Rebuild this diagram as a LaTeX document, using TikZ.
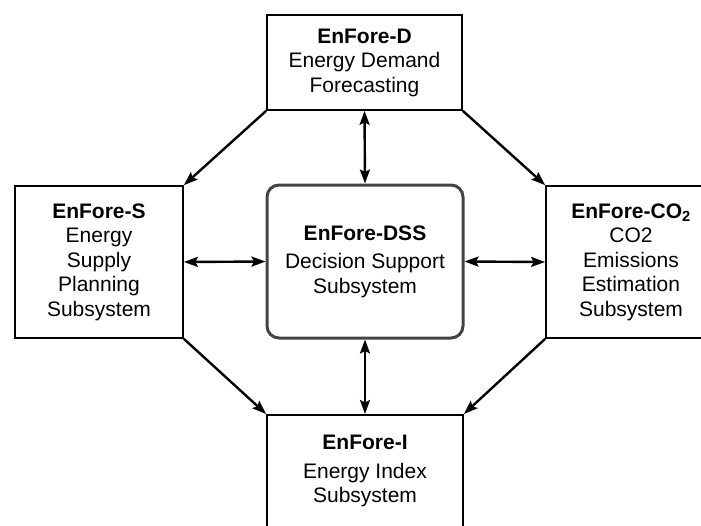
\documentclass[tikz,border=0pt]{standalone}
\usepackage{fontspec}
\setmainfont{Liberation Sans}
\usetikzlibrary{arrows.meta}
\definecolor{dssgray}{HTML}{444444}
\tikzset{
  box/.style={draw=black, line width=1.7pt, rectangle, inner sep=0pt, align=center,
    font=\fontsize{21}{24.5}\selectfont},
  dssbox/.style={draw=dssgray, line width=3pt, rectangle, rounded corners=12pt, inner sep=0pt,
    align=center, font=\fontsize{21}{24.5}\selectfont},
  label/.style={inner sep=0pt, align=center, font=\fontsize{21}{24.5}\selectfont},
  tipk/.tip={Stealth[length=14pt,width=10pt,inset=2.5pt]},
  link/.style={line width=2.4pt, -tipk},
  dlink/.style={line width=2.4pt, tipk-tipk}
}
\begin{document}
\begin{tikzpicture}[x=1pt,y=-1pt]
\useasboundingbox (0,0) rectangle (701,525);
\clip (0,0) rectangle (701,525);
\node[box, minimum width=195pt, minimum height=95pt] (D) at (364.5,62.5)
  {\textbf{EnFore-D}\\Energy Demand\\Forecasting};
\node[box, minimum width=168pt, minimum height=152pt] (S) at (99,262)
  {\textbf{EnFore-S}\\Energy\\Supply\\Planning\\Subsystem};
\node[box, minimum width=170pt, minimum height=152pt] (C) at (631,262)
  {\textbf{EnFore-CO\textsubscript{2}}\\CO2\\Emissions\\Estimation\\Subsystem};
\node[dssbox, minimum width=196pt, minimum height=153pt] (DSS) at (365,261.5)
  {\textbf{EnFore-DSS}\\[4pt]Decision Support\\Subsystem};
\node[box, minimum width=196pt, minimum height=130pt, anchor=north] (I) at (365,414) {};
\node[label] (Itext) at (365,471) {\textbf{EnFore-I}\\[4pt]Energy Index\\Subsystem};
\draw[dlink] (D.south) -- (DSS.north);
\draw[dlink] (DSS.south) -- (I.north);
\draw[dlink] (S.east) -- (DSS.west);
\draw[dlink] (DSS.east) -- (C.west);
\draw[link] (D.south west) -- (S.north east);
\draw[link] (D.south east) -- (C.north west);
\draw[link] (S.south east) -- (I.north west);
\draw[link] (C.south west) -- (I.north east);
\end{tikzpicture}
\end{document}
